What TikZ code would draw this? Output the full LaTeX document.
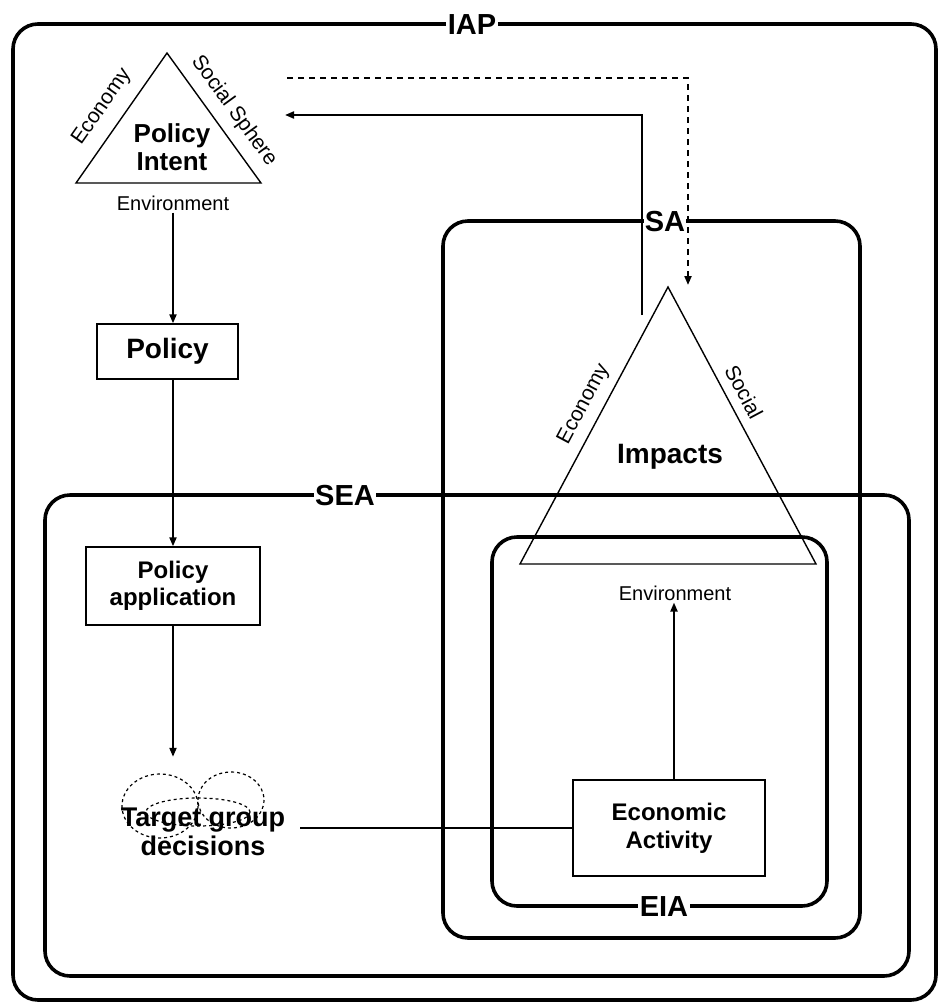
\documentclass[tikz,border=0pt]{standalone}
\usepackage{fontspec}
\setmainfont{Liberation Sans}
\usetikzlibrary{arrows.meta,calc}
\newcommand{\fs}[1]{\fontsize{#1}{1.2\dimexpr #1pt\relax}\selectfont}
\tikzset{
  frame/.style={line width=3.6pt, rounded corners=25pt},
  framelabel/.style={fill=white, inner sep=1.5pt, font=\fs{29}\bfseries},
  elbox/.style={draw, line width=1.4pt, align=center, font=\fs{24}\bfseries},
  tri/.style={line width=1.4pt, line join=miter},
  sidelabel/.style={font=\fs{21}, inner sep=1pt},
  envlabel/.style={font=\fs{20}, inner sep=2pt},
  flow/.style={line width=2pt, -{Triangle[length=9pt,width=7pt]}},
  feedback/.style={line width=2pt, dash pattern=on 6pt off 5pt, -{Triangle[length=9pt,width=7pt]}},
  cloudline/.style={line width=1.2pt, dash pattern=on 3pt off 3pt}
}
\begin{document}
\begin{tikzpicture}[x=1pt,y=-1pt]
\useasboundingbox (0,0) rectangle (939,1005);

% assessment frames
\draw[frame] (13,24) rectangle (936,1000);
\draw[frame] (45,495) rectangle (909,976);
\draw[frame] (443,221) rectangle (860,938);
\draw[frame] (492,537) rectangle (827,906);

% policy intent triangle
\coordinate (piA) at (167,53);
\coordinate (piB) at (76,183);
\coordinate (piC) at (261,183);
\draw[tri] (piA) -- (piB) -- (piC) -- cycle;
\node[font=\fs{26}\bfseries, align=center, inner sep=0pt] (intent) at (172,147) {Policy\\[-3pt]Intent};
\node[sidelabel, rotate=55] (ecoA) at (102,107) {Economy};
\node[sidelabel, rotate=-54] (socA) at (234,111) {Social Sphere};
\node[envlabel] (envA) at (173,203) {Environment};

% policy chain
\node[elbox, font=\fs{28}\bfseries, minimum width=141pt, minimum height=55pt] (policy) at (167.5,351.5) {Policy};
\node[elbox, minimum width=174pt, minimum height=78pt] (polapp) at (173,586) {Policy\\[-2pt]application};
\node[minimum width=150pt, minimum height=100pt, inner sep=0pt] (cloud) at (195,807) {};
\draw[cloudline] (160,806) ellipse [x radius=38, y radius=32];
\draw[cloudline] (231,800) ellipse [x radius=33, y radius=28];
\draw[cloudline] (198,812) ellipse [x radius=52, y radius=14];
\node[font=\fs{27}\bfseries, align=center, inner sep=2pt] (target) at (203,832) {Target group\\[-4pt]decisions};

% impacts triangle
\coordinate (imA) at (668,287);
\coordinate (imB) at (520,564);
\coordinate (imC) at (816,564);
\draw[tri] (imA) -- (imB) -- (imC) -- cycle;
\node[font=\fs{28}\bfseries, inner sep=0pt] (impacts) at (670,457) {Impacts};
\node[sidelabel, rotate=62] (ecoB) at (584,404) {Economy};
\node[sidelabel, rotate=-62] (socB) at (744,392) {Social};
\node[envlabel] (envB) at (675,593) {Environment};

\node[elbox, minimum width=192pt, minimum height=96pt] (econ) at (669,828) {Economic\\[-1pt]Activity};

% connectors
\draw[flow] (envA.south) -- (envA.south |- policy.north);
\draw[flow] (policy.south -| polapp.north) -- (polapp.north);
\draw[flow] (polapp.south) -- (polapp.south |- cloud.north);
\draw[line width=1.4pt, shorten <=13pt] (target.east |- econ.west) -- (econ.west);
\coordinate (envBin) at ($(envB.south)+(-1,0)$);
\draw[flow] (econ.north -| envBin) -- (envBin);

\coordinate (fbStart) at (642,315);
\coordinate (fbEnd) at (285,115);
\draw[flow] (fbStart) |- (fbEnd);

\coordinate (dStart) at (287,78);
\coordinate (dEnd) at (688,285);
\draw[feedback] (dStart) -| (dEnd);

% frame labels
\node[framelabel] (iap) at (472,25) {IAP};
\node[framelabel, inner sep=0.5pt] (sa) at (665,222) {SA};
\node[framelabel] (sea) at (345,496) {SEA};
\node[framelabel] (eia) at (664,907) {EIA};
\end{tikzpicture}
\end{document}
